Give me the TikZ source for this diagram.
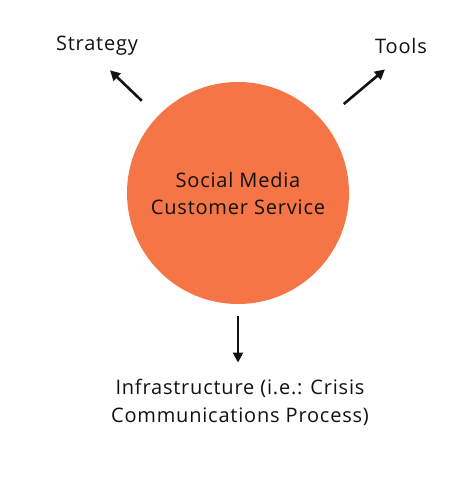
\documentclass[tikz,border=0pt]{standalone}
\usepackage{fontspec}
\setmainfont{Open Sans}[Ligatures=NoCommon, LetterSpace=4]
\usepackage{tikz}
\usetikzlibrary{arrows.meta, positioning}
\definecolor{hubfill}{HTML}{F57547}
\definecolor{hubink}{HTML}{111111}

\begin{document}
\begin{tikzpicture}[x=1pt, y=1pt,
        hub/.style={circle, fill=hubfill, minimum size=222pt, inner sep=0pt, align=center, font=\fontsize{20}{27}\selectfont, text=hubink},
        label/.style={align=center, font=\fontsize{20}{28}\selectfont, text=hubink, inner sep=2pt},
        arrow/.style={-{Triangle[length=10pt, width=10pt]}, line width=2.6pt, hubink}
    ]
        \useasboundingbox (0,0) rectangle (468,-503);
        \node (hub) [hub] at (238,-193) {Social Media\\Customer Service};
        \node (strategy) [label] at (97,-46) {Strategy};
        \node (tools) [label] at (401,-46) {Tools};
        \node (infra) [label] at (240,-402) {Infrastructure (i.e.: Crisis\\Communications Process)};

        \draw [arrow, shorten <=22pt, shorten >=18pt] (hub) -- (strategy.south);
        \draw [arrow, shorten <=27pt, shorten >=21pt] (hub) -- (tools.south);
        \draw [arrow, shorten <=12pt, shorten >=14pt] (hub.south) -- (infra.north -| hub.south);
    \end{tikzpicture}
\end{document}
